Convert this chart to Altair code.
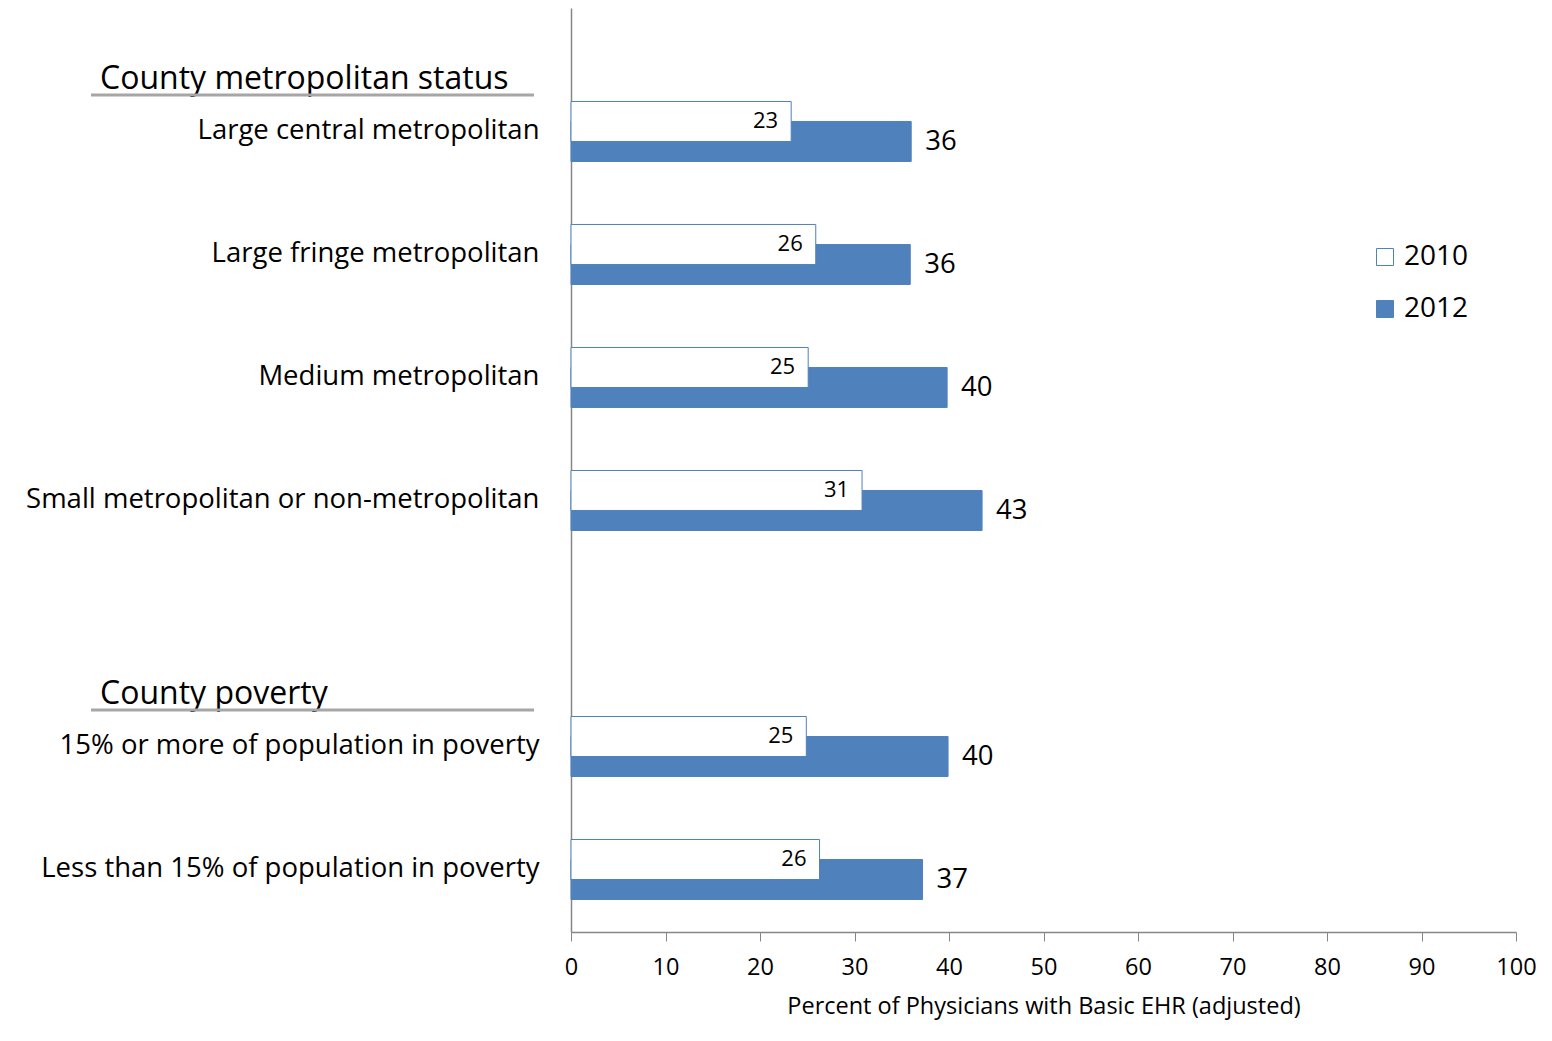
import altair as alt
import pandas as pd

categories = [
    "Large central metropolitan",
    "Large fringe metropolitan",
    "Medium metropolitan",
    "Small metropolitan or non-metropolitan",
    "15% or more of population in poverty",
    "Less than 15% of population in poverty",
]
values_2010 = [23.3, 25.9, 25.1, 30.8, 24.9, 26.3]
labels_2010 = ["23", "26", "25", "31", "25", "26"]
values_2012 = [36.0, 35.9, 39.8, 43.5, 39.9, 37.2]
labels_2012 = ["36", "36", "40", "43", "40", "37"]
years = ["2010", "2012"]

header_names = ["County metropolitan status", "County poverty"]
header_anchor = ["Large central metropolitan", "15% or more of population in poverty"]

y_domain = categories[:4] + [" "] + categories[4:]

BLUE = "#4F81BD"
FONT = "Open Sans"

rows = []
for c, v, l in zip(categories, values_2010, labels_2010):
    rows.append({"cat": c, "year": "2010", "value": v, "label": l})
for c, v, l in zip(categories, values_2012, labels_2012):
    rows.append({"cat": c, "year": "2012", "value": v, "label": l})
df = pd.DataFrame(rows)
hdf = pd.DataFrame({"cat": header_anchor, "name": header_names})

yscale = alt.Scale(domain=y_domain, paddingInner=0, paddingOuter=0.256, align=0.984)
xscale = alt.Scale(domain=[0, 100])

base = alt.Chart(df)

fill_enc = alt.Fill(
    "year:N",
    scale=alt.Scale(domain=years, range=["white", BLUE]),
    legend=alt.Legend(
        title=None, orient="none", legendX=800, legendY=235,
        symbolType="square", symbolSize=289, symbolStrokeColor=BLUE,
        symbolStrokeWidth=1, labelFontSize=28, labelFont=FONT,
        labelColor="#000000", rowPadding=24, labelOffset=5, padding=0,
    ),
)

bars12 = base.transform_filter(alt.datum.year == "2012").mark_bar(
    size=40, yOffset=10, stroke=BLUE, strokeWidth=1
).encode(
    x=alt.X("value:Q", scale=xscale,
            axis=alt.Axis(values=list(range(0, 101, 10)),
                          title="Percent of Physicians with Basic EHR (adjusted)")),
    y=alt.Y("cat:N", scale=yscale, sort=y_domain,
            axis=alt.Axis(title=None, ticks=False, labelPadding=32, labelLimit=700,
                          labelFontSize=27.5, labelAlign="right")),
    fill=fill_enc,
)

bars10 = base.transform_filter(alt.datum.year == "2010").mark_bar(
    size=40, yOffset=-10, stroke=BLUE, strokeWidth=1
).encode(
    x=alt.X("value:Q", scale=xscale),
    y=alt.Y("cat:N", scale=yscale, sort=y_domain),
    fill=fill_enc,
)

text10 = base.transform_filter(alt.datum.year == "2010").mark_text(
    align="right", baseline="middle", dx=-13, yOffset=-10, fontSize=22, font=FONT, color="#000000"
).encode(
    x=alt.X("value:Q", scale=xscale),
    y=alt.Y("cat:N", scale=yscale, sort=y_domain),
    text="label:N",
)

text12 = base.transform_filter(alt.datum.year == "2012").mark_text(
    align="left", baseline="middle", dx=14, yOffset=11, fontSize=27.5, font=FONT, color="#000000"
).encode(
    x=alt.X("value:Q", scale=xscale),
    y=alt.Y("cat:N", scale=yscale, sort=y_domain),
    text="label:N",
)

hbase = alt.Chart(hdf)
header_text = hbase.mark_text(
    align="left", baseline="middle", fontSize=32, font=FONT, color="#000000", yOffset=9
).encode(
    x=alt.value(-471),
    y=alt.Y("cat:N", scale=yscale, sort=y_domain, bandPosition=0),
    text="name:N",
)
header_rule = hbase.mark_rule(color="#A6A6A6", strokeWidth=3, yOffset=25).encode(
    x=alt.value(-480),
    x2=alt.value(-37),
    y=alt.Y("cat:N", scale=yscale, sort=y_domain, bandPosition=0),
)

chart = alt.layer(bars12, bars10, text10, text12, header_text, header_rule).properties(
    width=945, height=924,
    background="white",
    autosize=alt.AutoSizeParams(type="none"),
    padding={"left": 563, "top": 0, "right": 28, "bottom": 101},
).configure_view(stroke=None).configure_axis(
    grid=False, domainColor="#868686", tickColor="#868686", domainWidth=1.5,
    labelFont=FONT, titleFont=FONT, labelColor="#000000", titleColor="#000000",
).configure_axisX(
    tickSize=9, labelFontSize=23.5, titleFontSize=23.5, titleFontWeight="normal",
    labelPadding=14, titlePadding=16, labelFlush=False,
)

chart.save("out.html", embed_options={"renderer": "svg", "actions": False})
